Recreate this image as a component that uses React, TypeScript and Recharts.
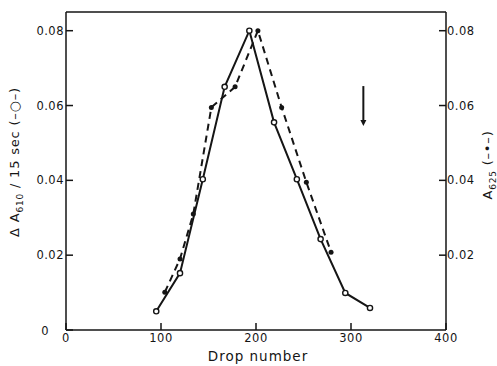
import React from 'react'
import {
  LineChart,
  Line,
  XAxis,
  YAxis,
  Label,
  ReferenceLine,
  ReferenceDot,
} from 'recharts'

// open circles, solid line: ΔA610 / 15 sec
const activityDrops = [95, 120, 144, 167, 193, 219, 243, 268, 294, 320]
const activityValues = [0.005, 0.0152, 0.0403, 0.065, 0.08, 0.0555, 0.0403, 0.0243, 0.0099, 0.0059]

// filled dots, dashed line: A625
const absorbDrops = [104, 120, 134, 153, 178, 202, 227, 253, 279]
const absorbValues = [0.0101, 0.019, 0.031, 0.0595, 0.065, 0.08, 0.0595, 0.0395, 0.0208]

const xTicks = [0, 100, 200, 300, 400]
const leftTicks = [0, 0.02, 0.04, 0.06, 0.08]
const rightTicks = [0.02, 0.04, 0.06, 0.08]

// arrow marker near the right side
const arrowDrop = 313
const arrowTop = 0.0652
const arrowBottom = 0.0548

const activity = activityDrops.map((x, i) => ({ x, y: activityValues[i] }))
const absorb = absorbDrops.map((x, i) => ({ x, y: absorbValues[i] }))

const INK = '#151515'
const FONT = '"DejaVu Sans", sans-serif'
const tickStyle = { fill: INK, fontSize: 11.5, fontFamily: FONT, letterSpacing: 0.5 }

const fmt = (v: number) => (v === 0 ? '0' : v.toFixed(2))

// left labels sit right-aligned, except the zero which is pushed further out
const LeftTick = (props: any) => {
  const { x, y, payload } = props
  const v = payload.value
  return (
    <text
      x={v === 0 ? x - 15 : x}
      y={y}
      dy={v === 0 ? 5 : 4}
      textAnchor="end"
      fill={INK}
      fontSize={11.5}
      fontFamily={FONT}
      letterSpacing={0.5}
    >
      {fmt(v)}
    </text>
  )
}

const OpenDot = (props: any) => {
  const { cx, cy } = props
  return <circle cx={cx} cy={cy} r={2.6} fill="#fff" stroke={INK} strokeWidth={1.4} />
}

const FilledDot = (props: any) => {
  const { cx, cy } = props
  return <circle cx={cx} cy={cy} r={2.5} fill={INK} stroke="none" />
}

const ArrowHead = (props: any) => {
  const { cx, cy } = props
  return <path d={`M${cx - 3},${cy - 5} L${cx + 3},${cy - 5} L${cx},${cy + 1} Z`} fill={INK} />
}

export default function App() {
  return (
    <div style={{ position: 'absolute', left: 0, top: 0, background: '#fff' }}>
      <LineChart width={497} height={366} margin={{ top: 11, right: 10, bottom: 10, left: 10 }}>
        <XAxis
          xAxisId="bottom"
          type="number"
          dataKey="x"
          domain={[0, 400]}
          ticks={xTicks}
          height={26}
          stroke={INK}
          strokeWidth={1.5}
          tickSize={-7}
          tickMargin={11}
          tick={tickStyle}
        >
          <Label
            content={() => (
              <text x={258} y={361} textAnchor="middle" fill={INK} fontSize={13.5} fontFamily={FONT} letterSpacing={1}>
                Drop number
              </text>
            )}
          />
        </XAxis>
        <XAxis
          xAxisId="top"
          orientation="top"
          type="number"
          dataKey="x"
          domain={[0, 400]}
          ticks={[200]}
          height={1}
          stroke={INK}
          strokeWidth={1.5}
          tickSize={-6}
          tickFormatter={() => ''}
        />
        <YAxis
          yAxisId="left"
          type="number"
          domain={[0, 0.085]}
          ticks={leftTicks}
          width={56}
          stroke={INK}
          strokeWidth={1.5}
          tickSize={-7}
          tickMargin={9}
          tick={<LeftTick />}
        >
          <Label
            content={() => (
              <text
                x={19}
                y={162}
                transform="rotate(-90, 19, 162)"
                textAnchor="middle"
                fill={INK}
                fontSize={13}
                fontFamily={FONT}
                letterSpacing={0.8}
              >
                <tspan>Δ A</tspan>
                <tspan fontSize={9} dy={4}>610</tspan>
                <tspan dy={-4}> / 15 sec (–○–)</tspan>
              </text>
            )}
          />
        </YAxis>
        <YAxis
          yAxisId="right"
          orientation="right"
          type="number"
          domain={[0, 0.085]}
          ticks={rightTicks}
          width={41}
          stroke={INK}
          strokeWidth={1.5}
          tickSize={-7}
          tickMargin={8}
          tick={tickStyle}
          tickFormatter={fmt}
        >
          <Label
            content={() => (
              <text
                x={492}
                y={165}
                transform="rotate(-90, 492, 165)"
                textAnchor="middle"
                fill={INK}
                fontSize={13}
                fontFamily={FONT}
                letterSpacing={0.8}
              >
                <tspan>A</tspan>
                <tspan fontSize={9} dy={4}>625</tspan>
                <tspan dy={-4}> (–•–)</tspan>
              </text>
            )}
          />
        </YAxis>

        <Line
          xAxisId="bottom"
          yAxisId="right"
          data={absorb}
          dataKey="y"
          stroke={INK}
          strokeWidth={2}
          strokeDasharray="7 5"
          dot={<FilledDot />}
          activeDot={false}
          isAnimationActive={false}
        />
        <Line
          xAxisId="bottom"
          yAxisId="left"
          data={activity}
          dataKey="y"
          stroke={INK}
          strokeWidth={2}
          dot={<OpenDot />}
          activeDot={false}
          isAnimationActive={false}
        />

        <ReferenceLine
          xAxisId="bottom"
          yAxisId="left"
          segment={[
            { x: arrowDrop, y: arrowTop },
            { x: arrowDrop, y: arrowBottom + 0.0012 },
          ]}
          stroke={INK}
          strokeWidth={2}
        />
        <ReferenceDot
          xAxisId="bottom"
          yAxisId="left"
          x={arrowDrop}
          y={arrowBottom}
          shape={<ArrowHead />}
        />
      </LineChart>
    </div>
  )
}
